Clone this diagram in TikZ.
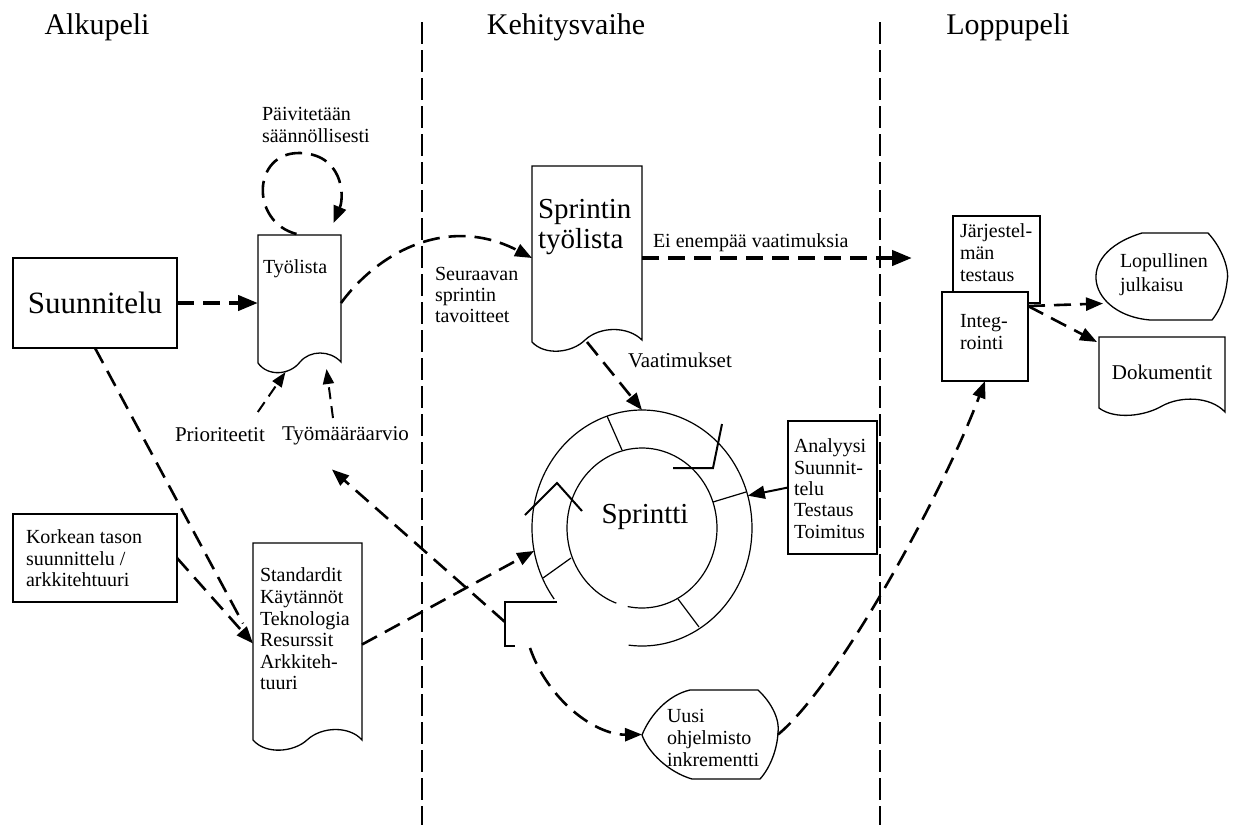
\documentclass[tikz,border=0pt]{standalone}
\usepackage{fontspec}
\setmainfont{Liberation Serif}
\usetikzlibrary{arrows.meta,calc,shapes.geometric}
\newcommand\myfs[2]{\fontsize{#1}{#2}\selectfont}
\begin{document}
\begin{tikzpicture}[x=1pt,y=-1pt,
  outline/.style={draw,line width=1.3pt},
  box/.style={outline,rectangle,inner sep=0pt,outer sep=0pt},
  area/.style={rectangle,inner sep=0pt,outer sep=0pt},
  txt/.style={inner sep=0pt,outer sep=0pt,anchor=north west,align=left},
  small/.style={font=\myfs{20}{21.5}},
  head/.style={font=\myfs{30}{32}},
  conn/.style={line width=2.6pt,dash pattern=on 17pt off 9pt,-{Triangle[length=17pt,width=13pt]}},
  thinconn/.style={line width=2pt,dash pattern=on 12pt off 7pt,-{Triangle[length=15pt,width=11pt]}},
  strong/.style={line width=4.2pt,dash pattern=on 17pt off 9pt,-{Triangle[length=20pt,width=15pt]}},
  solidconn/.style={line width=2pt,-{Triangle[length=17pt,width=13pt]}},
  phase/.style={line width=1.4pt,dash pattern=on 22pt off 6pt},
  ringl/.style={line width=1.2pt},
  notch/.style={line width=2pt},
]
\fill[white] (0,0) rectangle (1234,825);
\useasboundingbox (0,0) rectangle (1234,825);

% phase headings and separators
\node[head] (h1) at (97,27) {Alkupeli};
\node[head] (h2) at (566,27) {Kehitysvaihe};
\node[head] (h3) at (1008,27) {Loppupeli};
\coordinate (v1t) at (422,22); \coordinate (v1b) at (422,825);
\coordinate (v2t) at (880,22); \coordinate (v2b) at (880,825);
\draw[phase] (v1t) -- (v1b);
\draw[phase] (v2t) -- (v2b);

% ---------- Alkupeli ----------
\node[box,minimum width=164pt,minimum height=90pt,font=\myfs{31}{32}] (suun) at (95,303) {Suunnitelu};
\node[box,minimum width=164pt,minimum height=88pt] (kork) at (95,558) {};
\node[txt,small] (korkT) at (26,530) {Korkean tason\\suunnittelu /\\arkkitehtuuri};

% Tyolista document
\node[area,minimum width=83pt,minimum height=128pt] (tyo) at (299.5,299) {};
\draw[outline] (258,363) -- (258,235) -- (341,235) -- (341,362)
  .. controls (330,350) and (310,350) .. (300,362)
  .. controls (290,375) and (268,377) .. (258,363) -- cycle;
\node[txt,small] (tyoT) at (263,260) {Työlista};
\node[txt,font=\myfs{20}{22}] (paiv) at (262,107) {Päivitetään\\säännöllisesti};

% Standardit document
\node[area,minimum width=109pt,minimum height=197pt] (std) at (307.5,641.5) {};
\draw[outline] (253,543) -- (362,543) -- (362,740)
  .. controls (350,726) and (322,726) .. (307,740)
  .. controls (294,752) and (266,755) .. (253,740) -- cycle;
\node[txt,font=\myfs{20}{21.6}] (stdT) at (260,568) {Standardit\\Käytännöt\\Teknologia\\Resurssit\\Arkkiteh-\\tuuri};

\node[txt,font=\myfs{21}{22}] (prio) at (175,428) {Prioriteetit};
\node[txt,font=\myfs{21}{22}] (tmaa) at (282,427) {Työmääräarvio};

% ---------- Kehitysvaihe ----------
\node[area,minimum width=110pt,minimum height=176pt] (sprint) at (587,254) {};
\draw[outline] (532,166) -- (642,166) -- (642,340)
  .. controls (628,326) and (600,326) .. (585,340)
  .. controls (572,353) and (545,356) .. (532,342) -- cycle;
\node[txt,font=\myfs{29}{30}] (sprintT) at (538,199) {Sprintin\\työlista};
\node[txt,font=\myfs{20}{21}] (seur) at (435,267) {Seuraavan\\sprintin\\tavoitteet};
\node[txt,font=\myfs{20}{22}] (eiT) at (653,234) {Ei enempää vaatimuksia};
\node[txt,font=\myfs{21}{22}] (vaat) at (628,353) {Vaatimukset};

% Sprint ring
\node[area,ellipse,minimum width=220pt,minimum height=236pt] (outer) at (642,528) {};
\draw[ringl] plot[domain=-97:217,samples=120,smooth] ({642+110*cos(\x)},{528-118*sin(\x)});
\draw[ringl] plot[domain=-101:250,samples=120,smooth] ({642+75*cos(\x)},{528-80*sin(\x)});
\draw[ringl] (607,416) -- (622,450);
\draw[ringl] (713,502) -- (746,492);
\draw[ringl] (543,578) -- (571,558);
\draw[ringl] (678,599) -- (699,627);
\draw[notch] (722,424) -- (713,468) -- (673,468);
\draw[notch] (525,515) -- (557,483) -- (582,511);
\draw[notch] (557,602) -- (505,602) -- (505,646) -- (515,646);
\node[font=\myfs{29}{30}] (sprintti) at (645,517) {Sprintti};
\coordinate (tail1) at (505,622);
\coordinate (tail2) at (530,648);

\node[box,minimum width=89pt,minimum height=133pt] (ana) at (832.5,487.5) {};
\node[txt,font=\myfs{20}{21.3}] (anaT) at (794,439) {Analyysi\\Suunnit-\\telu\\Testaus\\Toimitus};

% Uusi ohjelmisto inkrementti
\node[area,minimum width=136pt,minimum height=89pt] (uusi) at (710,734.5) {};
\draw[outline] (690,690) -- (758,690)
  .. controls (772,703) and (780,720) .. (778,733)
  .. controls (777,750) and (770,768) .. (760,779) -- (692,779)
  .. controls (668,772) and (648,752) .. (642,735)
  .. controls (650,715) and (668,695) .. (690,690) -- cycle;
\node[txt,font=\myfs{20}{22}] (uusiT) at (667,709) {Uusi\\ohjelmisto\\inkrementti};

% ---------- Loppupeli ----------
\node[box,minimum width=87pt,minimum height=87pt] (jar) at (996.5,259.5) {};
\node[txt,font=\myfs{20}{22}] (jarT) at (960,224) {Järjestel-\\män\\testaus};
\node[box,fill=white,minimum width=86pt,minimum height=89pt] (integ) at (985,336.5) {};
\node[txt,font=\myfs{20}{22}] (integT) at (960,314) {Integ-\\rointi};

\node[area,minimum width=134pt,minimum height=87pt] (lop) at (1160,276.5) {};
\draw[outline] (1142,233) -- (1208,233)
  .. controls (1222,248) and (1230,270) .. (1227,282)
  .. controls (1225,298) and (1220,310) .. (1212,320) -- (1150,320)
  .. controls (1090,315) and (1070,255) .. (1142,233) -- cycle;
\node[txt,font=\myfs{20}{24}] (lopT) at (1120,254) {Lopullinen\\julkaisu};

\node[area,minimum width=126pt,minimum height=71pt,font=\myfs{21}{22}] (dok) at (1162,372.5) {Dokumentit};
\draw[outline] (1099,337) -- (1225,337) -- (1225,412)
  .. controls (1210,396) and (1180,396) .. (1162,406)
  .. controls (1145,416) and (1115,420) .. (1099,408) -- cycle;

\coordinate (eiend) at (912,258);

% ---------- connectors ----------
\draw[strong] (suun.east) -- (suun.east -| tyo.west);
\draw[conn] ($(tyo.north)+(-3,-1)$) .. controls (250,222) and (252,152) .. (300,153)
  .. controls (342,154) and (345,195) .. ($(tyo.north)+(34,-12)$);
\draw[conn] ($(tyo.east)+(0,4)$) .. controls (380,250) and (450,215) .. ($(sprint.west)+(0,4)$);
\draw[strong] ($(sprint.east)+(0,4)$) -- (eiend);
\draw[conn,-] (suun.south) -- ($(std.west)+(-10,-18)$);
\draw[conn] (kork.east) -- ($(std.west)+(0,2)$);
\draw[thinconn] ($(prio.north east)+(-7,-16)$) -- ($(tyo.south)+(-14,9)$);
\draw[thinconn] ($(tmaa.north west)+(51,-9)$) -- ($(tyo.south)+(27,6)$);
\draw[conn] (sprint.south) -- (outer.north);
\draw[solidconn] (ana.west) -- (outer.17);
\draw[conn] ($(std.east)+(0,3)$) -- (outer.192);
\draw[conn] (tail1) -- ($(tmaa.south west)+(50,24)$);
\draw[conn] (tail2) .. controls (548,700) and (595,735) .. (uusi.west);
\draw[conn] (uusi.east) .. controls (838,685) and (943,493) .. (integ.south);
\draw[conn] ($(integ.north east)+(0,14)$) -- ($(lop.west)+(10,27)$);
\draw[conn] ($(integ.north east)+(0,14)$) -- ($(dok.north west)+(-2,5)$);
\end{tikzpicture}
\end{document}
